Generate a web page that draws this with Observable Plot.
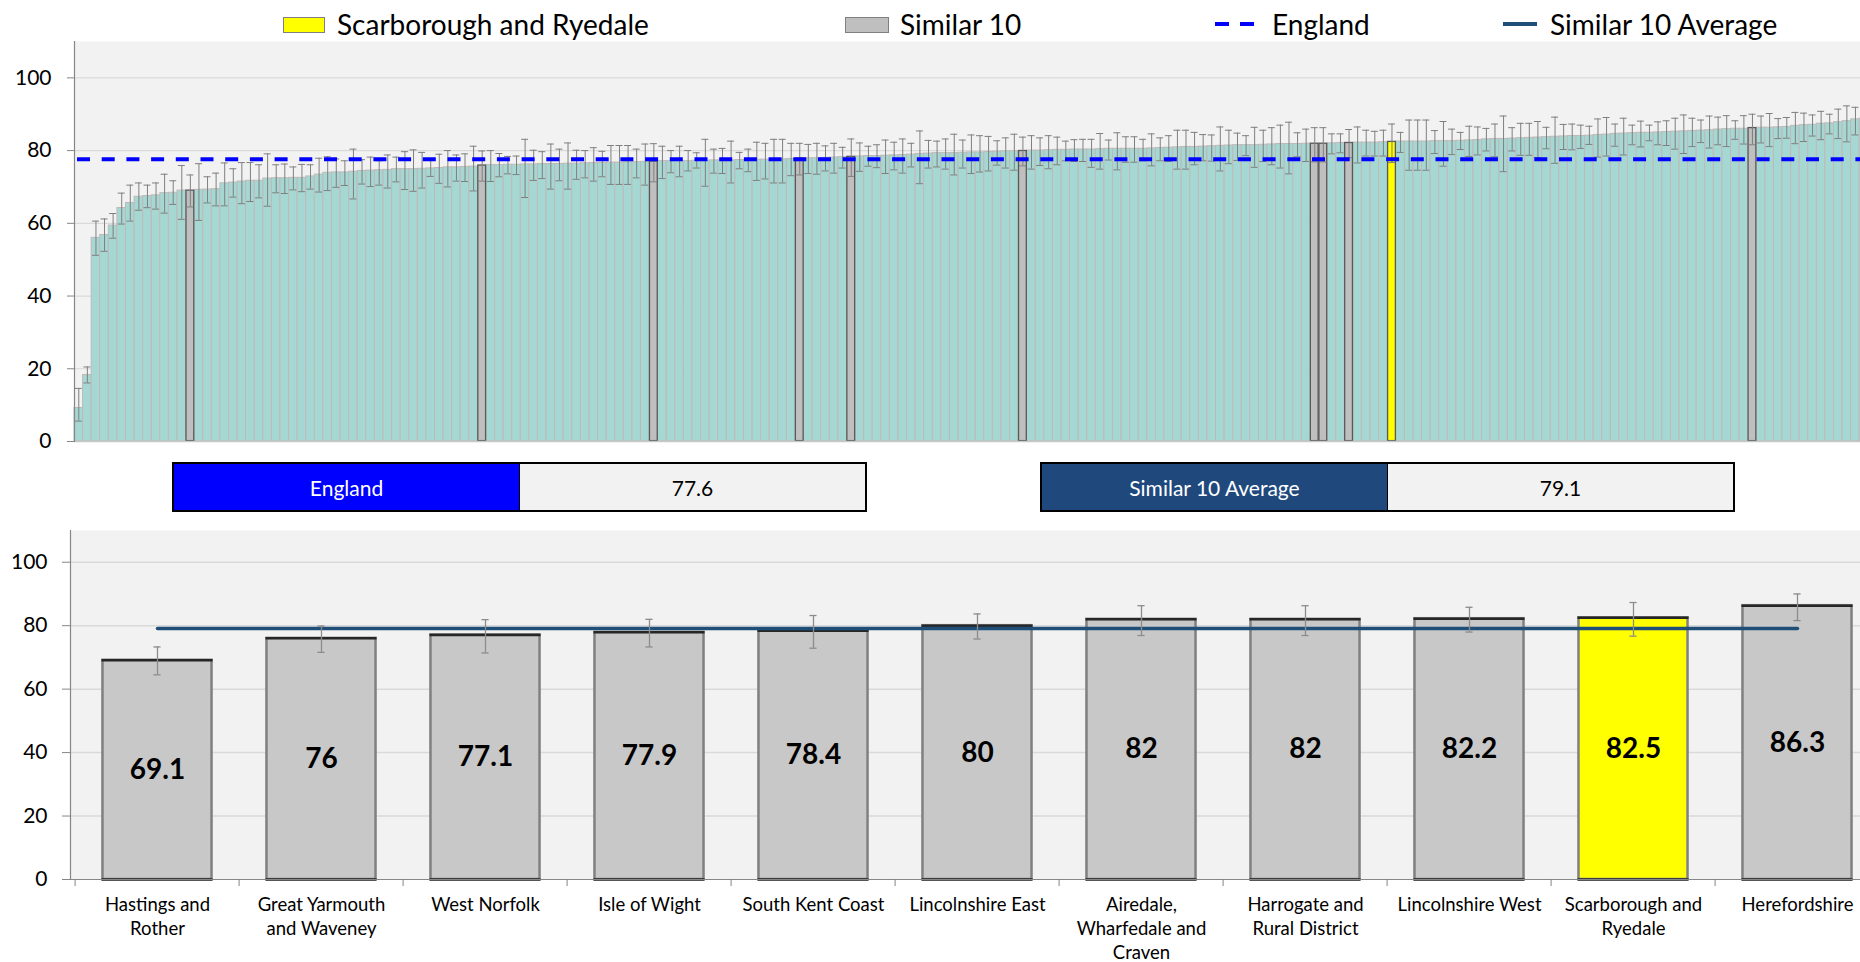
<!DOCTYPE html>
<html><head><meta charset="utf-8">
<script src="https://cdn.jsdelivr.net/npm/d3@7"></script>
<script src="https://cdn.jsdelivr.net/npm/@observablehq/plot@0.6"></script>
<style>
html,body{margin:0;padding:0;background:#fff;overflow:hidden;width:1860px;height:962px;font-family:Lato,"Open Sans",sans-serif;}
#page{position:relative;width:1860px;height:962px;overflow:hidden;}
.abs{position:absolute;}
.ltext{position:absolute;font-size:28px;line-height:34px;top:7px;color:#000;white-space:nowrap;}
.box{position:absolute;height:50px;border:2.5px solid #000;box-sizing:border-box;display:flex;}
.box div{display:flex;align-items:center;justify-content:center;font-size:21px;}
svg{position:absolute;left:0;max-width:none !important;}
</style></head>
<body><div id="page"></div>
<script>
// ---------------- data ----------------
const englandValue = 77.6;
const similarAverage = 79.1;
const localName = "Scarborough and Ryedale";

const topValues = [
 9.2,18.3,56.0,56.8,59.4,64.2,65.6,67.3,67.5,67.7,
 68.3,68.4,69.0,69.1,69.2,69.3,69.4,71.0,71.2,71.5,
 71.7,71.7,72.3,72.4,72.4,72.5,72.5,72.9,73.4,73.9,
 74.0,74.0,74.2,74.4,74.5,74.6,74.7,74.9,74.9,74.9,
 75.0,75.1,75.2,75.4,75.4,75.5,75.6,76.0,76.0,76.0,
 76.1,76.1,76.2,76.2,76.3,76.3,76.3,76.4,76.4,76.5,
 76.6,76.6,76.7,76.7,76.8,76.8,76.9,77.1,77.1,77.1,
 77.1,77.1,77.2,77.2,77.3,77.3,77.3,77.4,77.4,77.5,
 77.5,77.6,77.6,77.7,77.9,77.9,77.9,78.0,78.1,78.2,
 78.4,78.4,78.5,78.5,78.6,78.7,78.8,78.9,79.1,79.2,
 79.3,79.3,79.3,79.4,79.5,79.5,79.6,79.7,79.8,79.8,
 80.0,80.0,80.0,80.1,80.2,80.2,80.3,80.3,80.3,80.4,
 80.5,80.5,80.5,80.5,80.5,80.6,80.7,80.8,80.9,81.0,
 81.0,81.1,81.2,81.3,81.4,81.5,81.5,81.5,81.6,81.7,
 81.8,81.8,81.8,81.9,82.0,82.0,82.0,82.1,82.2,82.2,
 82.2,82.2,82.3,82.5,82.5,82.5,82.5,82.5,82.6,82.6,
 82.6,82.7,82.8,82.9,83.1,83.2,83.2,83.3,83.4,83.5,
 83.6,83.7,83.8,83.9,84.0,84.0,84.1,84.3,84.4,84.6,
 84.7,84.8,84.9,84.9,85.0,85.1,85.2,85.3,85.4,85.5,
 85.6,85.8,85.9,86.0,86.0,86.3,86.3,86.3,86.4,86.5,
 86.8,87.0,87.1,87.4,87.5,87.8,88.1,88.6,88.8,89.4,
 90.6];
const topUpper = [
 14.6,20.5,60.6,61.2,62.7,68.3,70.5,71.1,70.5,71.1,
 73.5,71.7,75.9,73.3,76.4,72.8,73.8,76.6,75.0,76.7,
 76.7,76.1,79.1,76.1,76.3,75.5,76.2,76.1,77.9,78.3,
 77.7,77.2,80.4,77.5,78.2,77.2,78.8,78.2,79.7,80.2,
 79.5,77.5,79.0,80.0,78.8,79.1,81.2,79.9,80.0,79.2,
 78.4,78.5,83.1,80.1,79.7,81.8,80.4,82.1,80.1,80.0,
 80.8,79.8,81.4,81.4,81.4,80.4,81.8,81.9,81.2,80.0,
 81.2,80.0,79.4,83.1,80.4,80.6,82.6,79.5,80.4,82.3,
 82.0,83.1,83.1,82.0,82.0,81.7,82.0,81.3,82.0,80.9,
 83.2,82.1,81.2,81.6,82.9,82.3,83.2,82.0,85.4,82.8,
 82.6,83.2,84.5,82.9,84.3,84.1,83.9,82.7,83.5,84.5,
 83.7,84.1,83.5,84.1,83.7,82.6,83.0,83.1,83.1,84.7,
 82.9,84.9,83.8,83.8,83.1,84.6,83.5,84.1,85.6,85.6,
 85.0,84.4,84.3,86.5,85.6,84.8,84.1,86.4,85.6,86.3,
 87.0,87.8,84.9,85.9,86.3,86.3,84.6,84.6,85.8,86.5,
 85.6,85.3,85.6,87.3,85.0,88.4,88.4,88.4,85.5,88.0,
 85.9,85.0,86.7,86.5,86.1,87.3,89.5,86.3,87.5,87.5,
 88.0,86.4,89.2,87.2,87.3,87.0,86.7,88.7,89.1,87.3,
 88.9,87.0,88.1,87.0,87.9,88.2,88.9,89.8,88.9,88.4,
 89.5,89.2,89.6,88.2,89.6,90.0,89.5,90.2,88.8,89.1,
 90.5,90.3,89.8,90.8,90.0,91.4,92.3,91.9,92.1,92.8,
 94.0];
const topLower = [
 5.6,16.1,51.2,52.3,55.9,59.8,60.6,63.6,64.3,63.9,
 62.8,65.2,61.1,64.5,60.8,65.6,64.8,64.8,67.2,65.4,
 66.0,67.0,64.7,68.4,68.2,69.2,68.7,69.4,68.6,69.0,
 69.9,70.4,66.7,70.8,70.1,70.5,69.7,71.4,69.3,68.8,
 69.7,72.9,71.0,70.0,71.6,71.5,68.9,71.6,71.5,72.8,
 73.6,73.4,67.1,71.8,72.3,69.4,71.7,69.4,72.1,72.5,
 71.6,72.8,70.7,70.7,70.7,72.5,70.5,71.4,72.3,73.9,
 72.8,74.4,75.2,70.2,73.8,73.7,71.1,75.0,74.2,71.8,
 72.2,71.1,71.1,73.1,73.3,73.7,73.5,74.4,73.8,75.2,
 72.9,74.3,75.7,75.3,73.7,74.7,73.8,75.5,70.9,75.2,
 75.5,74.9,73.3,75.2,73.7,74.1,74.4,76.0,75.2,74.6,
 75.8,74.9,75.9,75.0,76.1,77.2,77.0,77.0,75.4,74.9,
 77.4,74.7,76.8,76.8,77.2,75.8,77.2,77.0,74.9,74.9,
 76.1,77.2,77.1,74.4,76.4,77.3,78.6,75.4,77.0,76.1,
 75.2,73.6,78.3,77.0,76.9,76.9,79.1,79.4,78.0,76.6,
 78.5,78.5,78.5,76.7,79.5,74.6,74.6,74.6,79.2,75.7,
 78.9,80.3,78.4,78.8,79.9,78.3,74.2,79.9,78.7,78.7,
 78.1,80.5,76.5,80.3,80.2,80.6,81.7,78.2,78.5,81.2,
 78.8,81.6,81.0,82.7,81.6,81.4,80.4,79.2,81.1,82.2,
 80.7,81.6,81.1,83.1,81.8,81.6,82.1,81.1,83.3,83.4,
 81.9,82.5,84.0,83.0,84.6,83.3,82.4,84.3,84.6,85.2,
 86.5];
// positions (in the ranked list of all areas) of the similar-10 areas and of the local area
const similarPositions = [13, 47, 67, 84, 90, 110, 144, 145, 148, 195];
const localPosition = 153;

const similarNames = ["Hastings and Rother","Great Yarmouth and Waveney","West Norfolk","Isle of Wight","South Kent Coast","Lincolnshire East","Airedale, Wharfedale and Craven","Harrogate and Rural District","Lincolnshire West","Scarborough and Ryedale","Herefordshire"];
const similarLabels = ["Hastings and\nRother","Great Yarmouth\nand Waveney","West Norfolk","Isle of Wight","South Kent Coast","Lincolnshire East","Airedale,\nWharfedale and\nCraven","Harrogate and\nRural District","Lincolnshire West","Scarborough and\nRyedale","Herefordshire"];
const similarValues = [69.1, 76, 77.1, 77.9, 78.4, 80, 82, 82, 82.2, 82.5, 86.3];
const similarUpper = [73.3, 79.9, 81.9, 82.0, 83.2, 83.7, 86.3, 86.3, 85.8, 87.3, 90.0];
const similarLower = [64.5, 71.6, 71.4, 73.3, 72.9, 75.8, 76.9, 76.9, 78.0, 76.7, 81.6];
const yTicks = [0, 20, 40, 60, 80, 100];

const legendLabels = ["Scarborough and Ryedale", "Similar 10", "England", "Similar 10 Average"];
const boxLabels = ["England", "Similar 10 Average"];

// ---------------- page ----------------
const page = document.getElementById("page");
function el(tag, cls, style, text){
  const e = document.createElement(tag);
  if (cls) e.className = cls;
  Object.assign(e.style, style || {});
  if (text != null) e.textContent = text;
  page.appendChild(e);
  return e;
}
// legend
el("div","abs",{left:"283px",top:"17px",width:"42px",height:"16px",background:"#FFFF00",border:"1px solid #7F7F7F",boxSizing:"border-box"});
el("div","ltext",{left:"337px"},legendLabels[0]);
el("div","abs",{left:"845px",top:"17px",width:"44px",height:"16px",background:"#BFBFBF",border:"1px solid #7F7F7F",boxSizing:"border-box"});
el("div","ltext",{left:"900px"},legendLabels[1]);
el("div","abs",{left:"1215px",top:"22px",width:"14px",height:"4px",background:"#0000FF"});
el("div","abs",{left:"1240px",top:"22px",width:"14px",height:"4px",background:"#0000FF"});
el("div","ltext",{left:"1272px"},legendLabels[2]);
el("div","abs",{left:"1503px",top:"22px",width:"34px",height:"4px",background:"#1F4E79"});
el("div","ltext",{left:"1550px"},legendLabels[3]);

// summary boxes
function box(left, color, label, value){
  const b = el("div","box",{left:left+"px",top:"462px",width:"695px"});
  const l = document.createElement("div");
  Object.assign(l.style,{width:"345px",background:color,color:"#fff"});
  l.textContent = label;
  const r = document.createElement("div");
  Object.assign(r.style,{flex:"1",background:"#F2F2F2",color:"#000",borderLeft:"1.5px solid #000"});
  r.textContent = value;
  b.appendChild(l); b.appendChild(r);
}
box(172, "#0000FF", boxLabels[0], englandValue.toFixed(1));
box(1040, "#1F497D", boxLabels[1], similarAverage.toFixed(1));

// ---------------- top chart ----------------
const W = 1890;
const topData = topValues.map((v, i) => ({
  i, v, hi: topUpper[i], lo: topLower[i],
  kind: i === localPosition ? "local" : similarPositions.includes(i) ? "similar" : "other"
}));
const baseStyle = {background:"transparent", fontFamily:"Lato, 'Open Sans', sans-serif", fontSize:"21px", color:"#000", overflow:"visible"};

const topSvg = Plot.plot({
  width: W, height: 420,
  marginLeft: 74, marginRight: 5, marginTop: 11, marginBottom: 9,
  x: {type: "band", domain: topData.map(d => d.i), padding: 0, axis: null},
  y: {domain: [0, 110], axis: null},
  style: baseStyle,
  marks: [
    Plot.frame({fill: "#F2F2F2", stroke: null}),
    Plot.gridY(yTicks.slice(1), {stroke: "#D9D9D9", strokeOpacity: 1, strokeWidth: 1.2}),
    Plot.barY(topData.filter(d => d.kind === "other"), {x: "i", y: "v", fill: "#A6D8D3", stroke: "#BFB9B9", strokeWidth: 1, inset: 0}),
    Plot.barY(topData.filter(d => d.kind === "similar"), {x: "i", y: "v", fill: "#BFBFBF", stroke: "#595959", strokeWidth: 1.3, inset: 0.4}),
    Plot.barY(topData.filter(d => d.kind === "local"), {x: "i", y: "v", fill: "#FFFF00", stroke: "#595959", strokeWidth: 1.3, inset: 0.4}),
    Plot.ruleX(topData, {x: "i", y1: "lo", y2: "hi", stroke: "#7F7F7F", strokeWidth: 1}),
    Plot.tickY(topData, {x: "i", y: "hi", stroke: "#7F7F7F", strokeWidth: 1, insetLeft: 0.8, insetRight: 0.8}),
    Plot.tickY(topData, {x: "i", y: "lo", stroke: "#7F7F7F", strokeWidth: 1, insetLeft: 0.8, insetRight: 0.8}),
    Plot.ruleY([englandValue], {stroke: "#0000FF", strokeWidth: 4, strokeDasharray: "13,11.7", strokeDashoffset: -3}),
    Plot.ruleY([0], {stroke: "#C8C8C8", strokeWidth: 1.5}),
    Plot.frame({anchor: "left", stroke: "#868686", strokeWidth: 1.2}),
    Plot.axisY(yTicks, {anchor: "left", tickSize: 7, tickPadding: 16, stroke: "#868686", fill: "#000", fontSize: 21, label: null})
  ]
});
topSvg.style.top = "30px";
topSvg.style.maxWidth = "none";
page.appendChild(topSvg);

// ---------------- bottom chart ----------------
const botData = similarNames.map((name, k) => ({
  name, v: similarValues[k], hi: similarUpper[k], lo: similarLower[k], label: similarLabels[k],
  local: name === localName
}));
const labelMap = new Map(botData.map(d => [d.name, d.label]));
const mL = 70, mR = 7;
const step = (W - mL - mR) / similarNames.length;
const barInset = step / 6;
const capInset = (step - 8) / 2;

const botSvg = Plot.plot({
  width: W, height: 442,
  marginLeft: mL, marginRight: mR, marginTop: 10, marginBottom: 83,
  x: {type: "band", domain: similarNames, padding: 0, label: null},
  y: {domain: [0, 110], label: null},
  style: baseStyle,
  marks: [
    Plot.frame({fill: "#F2F2F2", stroke: null}),
    Plot.gridY(yTicks.slice(1), {stroke: "#D9D9D9", strokeOpacity: 1, strokeWidth: 1.5}),
    Plot.barY(botData, {x: "name", y: "v", fill: d => d.local ? "#FFFF00" : "#C8C8C8", stroke: "#808080", strokeWidth: 2.5, insetLeft: barInset, insetRight: barInset}),
    Plot.tickY(botData, {x: "name", y: "v", stroke: "#262626", strokeWidth: 2.5, insetLeft: barInset - 1, insetRight: barInset - 1}),
    Plot.tickY(botData, {x: "name", y: 0, stroke: "#262626", strokeWidth: 2.5, insetLeft: barInset - 1, insetRight: barInset - 1}),
    Plot.lineY(botData, {x: "name", y: () => similarAverage, stroke: "#1F4E79", strokeWidth: 3.5}),
    Plot.ruleX(botData, {x: "name", y1: "lo", y2: "hi", stroke: "#8C8C8C", strokeWidth: 1.3}),
    Plot.tickY(botData, {x: "name", y: "hi", stroke: "#8C8C8C", strokeWidth: 1.3, insetLeft: capInset, insetRight: capInset}),
    Plot.tickY(botData, {x: "name", y: "lo", stroke: "#8C8C8C", strokeWidth: 1.3, insetLeft: capInset, insetRight: capInset}),
    Plot.text(botData, {x: "name", y: d => d.v / 2, text: d => String(d.v), fontSize: 28, fontWeight: "bold", fill: "#000"}),
    Plot.ruleY([0], {stroke: "#868686", strokeWidth: 1.2}),
    Plot.frame({anchor: "left", stroke: "#868686", strokeWidth: 1.2}),
    Plot.axisY(yTicks, {anchor: "left", tickSize: 8, tickPadding: 15, stroke: "#868686", fill: "#000", fontSize: 21, label: null}),
    Plot.axisX(similarNames, {anchor: "bottom", tickSize: 7, dx: -step / 2, stroke: "#868686", tickFormat: () => "", label: null}),
    Plot.axisX(similarNames, {anchor: "bottom", tickSize: 0, tickPadding: 14, tickFormat: d => labelMap.get(d), fontSize: 18.5, lineHeight: 1.31, fill: "#000", label: null})
  ]
});
botSvg.style.top = "520px";
botSvg.style.maxWidth = "none";
page.appendChild(botSvg);
</script></body></html>
